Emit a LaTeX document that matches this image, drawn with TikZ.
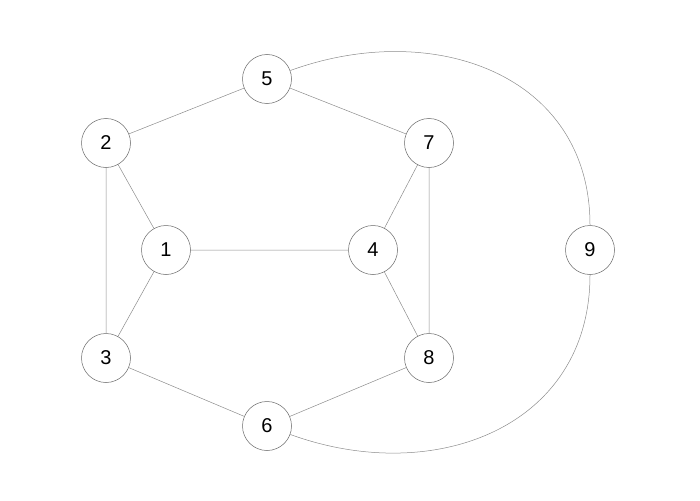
\documentclass[tikz,border=0pt]{standalone}
\usepackage{fontspec}
\setmainfont{Liberation Sans}
\begin{document}
\begin{tikzpicture}[x=1pt,y=-1pt,
  vert/.style={circle,draw=black!60,line width=0.5pt,minimum size=49pt,inner sep=0pt,font=\fontsize{20}{22}\selectfont,fill=white},
  edge/.style={draw=black!45,line width=0.5pt}]
\useasboundingbox (0,0) rectangle (700,500);
\node[vert] (5) at (267,79) {5};
\node[vert] (2) at (106,143) {2};
\node[vert] (7) at (429,143) {7};
\node[vert] (1) at (166,250) {1};
\node[vert] (4) at (373,250) {4};
\node[vert] (9) at (590,250) {9};
\node[vert] (3) at (106,358) {3};
\node[vert] (8) at (429,358) {8};
\node[vert] (6) at (267,426) {6};
\draw[edge] (5)--(2) (5)--(7) (2)--(1) (2)--(3) (1)--(3) (1)--(4)
  (7)--(4) (7)--(8) (4)--(8) (3)--(6) (6)--(8);
\draw[edge] (5) to[out=20,in=90,looseness=1.15] (9);
\draw[edge] (6) to[out=-20,in=-90,looseness=1.15] (9);
\end{tikzpicture}
\end{document}
